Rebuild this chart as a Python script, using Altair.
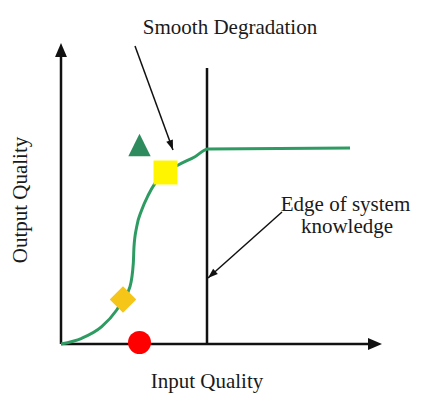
import math
import altair as alt
import pandas as pd

# ---- data (units: px right of / above the axis origin) ----
curve_x = [0, 20.7, 40.7, 55.7, 62.3, 69, 72.3, 73, 75.7, 80.7, 87.3, 94, 104, 117.3, 134, 147, 289]
curve_y = [0, 5.7, 17.3, 34, 44.7, 57.3, 80.7, 97.3, 117.3, 134, 149, 160.7, 171.3, 179, 187.3, 195, 196]

marker_x = [78.5, 104.5, 62, 78.5]
marker_y = [199, 171.5, 44.5, 1.5]
marker_shape = ["M0,-1L-1,1L1,1Z", "square", "diamond", "circle"]
marker_size = [500, 576, 700, 529]
marker_color = ["#2E8B5E", "#FFF500", "#F5C518", "#FF0000"]

# axis lines and edge line: x, y, x2, y2
line_x = [0, 0, 146]
line_y = [0, 0, 0]
line_x2 = [0, 314, 146]
line_y2 = [294, 0, 276]
# arrow tips for axes
axis_tip_x = [0, 321]
axis_tip_y = [301, 0]

# annotation arrows: start -> tip
ann_sx = [74, 221]
ann_sy = [298, 132]
ann_tx = [112, 147]
ann_ty = [194, 66]

labels = ["Smooth Degradation", "Edge of system", "knowledge", "Input Quality", "Output Quality"]
label_x = [169, 284.5, 286, 146, -40]
label_y = [310, 133.3, 110.7, -44, 144]
label_angle = [0, 0, 0, 0, 270]
label_base = ["alphabetic", "alphabetic", "alphabetic", "alphabetic", "middle"]

# ---- geometry ----
W, H = 406, 385
OX, OY = 61 - 8, 344 - 8  # origin inside plot area
xs = alt.Scale(domain=[-OX, W - OX], nice=False, zero=False)
ys = alt.Scale(domain=[OY - H, OY], nice=False, zero=False)

def head_rows(sx, sy, tx, ty, length, size, shape):
    dx, dy = tx - sx, ty - sy
    n = math.hypot(dx, dy)
    ux, uy = dx / n, dy / n
    ang = math.degrees(math.atan2(ux, uy)) % 360
    return dict(x=tx - ux * length / 2, y=ty - uy * length / 2, angle=ang, size=size, shape=shape)

heads = []
for tx, ty in zip(axis_tip_x, axis_tip_y):
    heads.append(head_rows(0, 0, tx, ty, 14, 196, "M0,-1L-0.85,1L0.85,1Z"))
for sx, sy, tx, ty in zip(ann_sx, ann_sy, ann_tx, ann_ty):
    heads.append(head_rows(sx, sy, tx, ty, 10, 100, "M0,-1L-0.7,1L0.7,1Z"))
heads_df = pd.DataFrame(heads)

X = lambda f="x": alt.X(f, type="quantitative", scale=xs, axis=None)
Y = lambda f="y": alt.Y(f, type="quantitative", scale=ys, axis=None)

rules = alt.Chart(pd.DataFrame(dict(x=line_x, y=line_y, x2=line_x2, y2=line_y2))).mark_rule(
    color="#111111", strokeWidth=2.5
).encode(x=X(), y=Y(), x2="x2:Q", y2="y2:Q")

ann = alt.Chart(pd.DataFrame(dict(x=ann_sx, y=ann_sy, x2=ann_tx, y2=ann_ty))).mark_rule(
    color="#111111", strokeWidth=1.5
).encode(x=X(), y=Y(), x2="x2:Q", y2="y2:Q")

curve = alt.Chart(pd.DataFrame(dict(x=curve_x, y=curve_y))).mark_line(
    color="#2E9B62", strokeWidth=3, interpolate="monotone"
).encode(x=X(), y=Y())

heads_layer = alt.Chart(heads_df).mark_point(filled=True, opacity=1, color="#111111", strokeWidth=0).encode(
    x=X(), y=Y(),
    angle=alt.Angle("angle:Q", scale=None),
    size=alt.Size("size:Q", scale=None),
    shape=alt.Shape("shape:N", scale=None),
)

markers = alt.Chart(pd.DataFrame(dict(x=marker_x, y=marker_y, shape=marker_shape, size=marker_size, color=marker_color))).mark_point(
    filled=True, opacity=1, strokeWidth=0
).encode(
    x=X(), y=Y(),
    size=alt.Size("size:Q", scale=None),
    shape=alt.Shape("shape:N", scale=None),
    color=alt.Color("color:N", scale=None),
)

texts = alt.Chart(pd.DataFrame(dict(x=label_x, y=label_y, text=labels, angle=label_angle, base=label_base))).encode(
    x=X(), y=Y(), text="text:N",
    angle=alt.Angle("angle:Q", scale=None),
)

texts_a = texts.transform_filter(alt.datum.base == "alphabetic").mark_text(
    font="Liberation Serif", fontSize=21, color="#1a1a1a", align="center", baseline="alphabetic"
)
texts_m = texts.transform_filter(alt.datum.base == "middle").mark_text(
    font="Liberation Serif", fontSize=21, color="#1a1a1a", align="center", baseline="middle"
)

chart = alt.layer(rules, ann, curve, heads_layer, markers, texts_a, texts_m).properties(
    width=W, height=H, autosize=alt.AutoSizeParams(type="none"), padding=0, background="white"
).configure_view(stroke=None)

chart.save("out.html", embed_options={"renderer": "svg", "actions": False})
